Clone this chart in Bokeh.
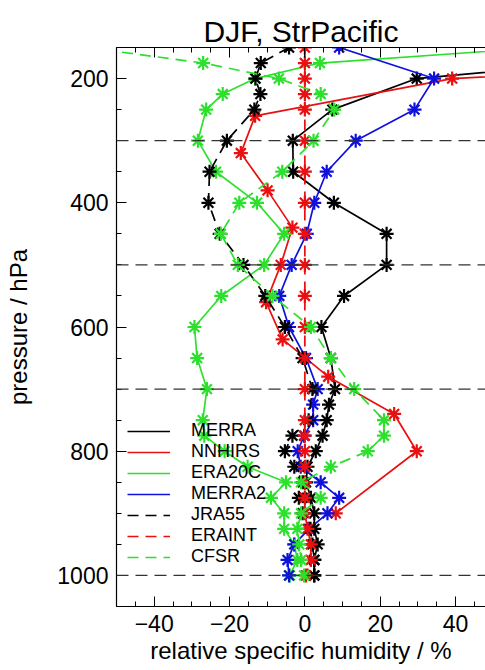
from bokeh.plotting import figure
from bokeh.models import Range1d, LinearAxis, Span, Legend, LegendItem, FixedTicker, CustomJSTickFormatter
from bokeh.embed import file_html
from bokeh.resources import INLINE

# ---------------- data ----------------
levels_std = [150, 175, 200, 225, 250, 300, 350, 400, 450, 500, 550, 600, 650, 700,
              750, 775, 800, 825, 850, 875, 900, 925, 950, 975, 1000]
levels_merra = [150, 200, 250, 300, 350, 400, 450, 500, 550, 600, 650, 700, 725,
                750, 775, 800, 825, 850, 875, 900, 925, 950, 975, 1000]
levels_nnhirs = [150, 200, 260, 320, 380, 440, 500, 560, 620, 680, 740, 800, 900]

merra = [120, 29.7, 7.3, -3.2, -3.1, 7.7, 21.7, 21.7, 10.4, 4.4, 6.9, 8.0, 6.4,
         5.8, 4.7, 2.9, 0.7, 0.3, 1.6, 2.5, 2.5, 3.4, 2.5, 2.5]
nnhirs = [200, 39.1, -13.2, -17.0, -9.9, -3.3, -6.4, -10.3, -5.9, 6.2, 23.7, 29.7, 8.2]
era20c = [63, 4.0, -13.2, -21.8, -26.2, -28.4, -23.6, -12.7, -5.5, -10.8, -22.2, -29.3,
          -28.6, -26.0, -27.1, -26.7, -21.3, -15.2, -5.0, -9.0, -5.5, -5.5, -2.8, -2.0, -4.0]
merra2 = [9.1, 34.3, 29.1, 13.5, 5.8, 2.5, 0.5, -3.5, -6.8, -4.2, 0.3, 3.4, 2.2,
          2.2, -0.2, -1.9, -1.1, 4.2, 9.1, 6.0, 1.1, -2.8, -4.6, -4.2]
jra55 = [-4.2, -11.7, -13.1, -11.8, -13.4, -20.7, -25.3, -25.6, -22.6, -16.3, -10.5, -5.3,
         -0.6, 2.0, 1.0, -3.3, -5.3, -2.8, -0.5, -1.6, -0.6, 1.5, 2.0, 2.5, 2.5]
eraint = [0, 0, 0, 0, 0, 0, 0, 0, 0, 0, 0, 0, 0, 0, 0, 0, 0, 0, 0, 0, 0, 0.7, 1.6, 1.6, 0.3]
cfsr = [-58, -27.0, -6.9, 4.2, 7.8, 2.3, -6.0, -17.4, -22.3, -17.8, -8.6, 1.6, 6.9, 13.1,
        21.0, 21.0, 16.7, 6.9, -1.0, 4.2, -1.0, -2.0, -1.5, -1.0, -0.2]

ref_levels = [300, 500, 700, 1000]

x_major = [-40, -20, 0, 20, 40]
x_minor = [-50, -45, -35, -30, -25, -15, -10, -5, 5, 10, 15, 25, 30, 35, 45]
y_major = [200, 400, 600, 800, 1000]
y_minor = [150, 250, 300, 350, 450, 500, 550, 650, 700, 750, 850, 900, 950, 1050]

series = [
    ("MERRA", levels_merra, merra, "#000000", "solid"),
    ("NNHIRS", levels_nnhirs, nnhirs, "#e81010", "solid"),
    ("ERA20C", levels_std, era20c, "#2ee02e", "solid"),
    ("MERRA2", levels_merra, merra2, "#1010dd", "solid"),
    ("JRA55", levels_std, jra55, "#000000", "11 7"),
    ("ERAINT", levels_std, eraint, "#e81010", "11 7"),
    ("CFSR", levels_std, cfsr, "#2ee02e", "11 7"),
]

FONT = "Liberation Sans"

# ---------------- figure ----------------
p = figure(width=485, height=670, output_backend="svg", toolbar_location=None,
           x_range=Range1d(-50, 47.95), y_range=Range1d(1050, 150),
           min_border_left=116, min_border_right=0, min_border_top=47,
           min_border_bottom=64, title="DJF, StrPacific")
p.outline_line_color = None
p.xgrid.visible = False
p.ygrid.visible = False
p.background_fill_color = "white"
p.border_fill_color = "white"

p.title.text_font = FONT
p.title.text_font_size = "30px"
p.title.text_font_style = "normal"
p.title.align = "center"
p.title.text_color = "black"
p.title.standoff = 0

bottom_axis = p.below[0]
left_axis = p.left[0]

top_axis = LinearAxis()
p.add_layout(top_axis, "above")

for ax in [bottom_axis, top_axis]:
    ax.ticker = FixedTicker(ticks=x_major, minor_ticks=x_minor)
left_axis.ticker = FixedTicker(ticks=y_major, minor_ticks=y_minor)

for ax in [bottom_axis, top_axis, left_axis]:
    ax.major_tick_in = 10
    ax.major_tick_out = 0
    ax.minor_tick_in = 5
    ax.minor_tick_out = 0
    ax.axis_line_color = "black"
    ax.axis_line_width = 1.2
    ax.major_tick_line_color = "black"
    ax.minor_tick_line_color = "black"
    ax.major_label_text_font = FONT
    ax.major_label_text_font_size = "23px"
    ax.major_label_text_color = "black"
    ax.axis_label_text_font = FONT
    ax.axis_label_text_font_size = "24px"
    ax.axis_label_text_font_style = "normal"
    ax.axis_label_text_color = "black"

top_axis.formatter = CustomJSTickFormatter(code="return ''")
top_axis.major_label_text_font_size = "1px"
top_axis.major_label_standoff = 0

bottom_axis.axis_label = "relative specific humidity / %"
bottom_axis.major_label_standoff = 8
bottom_axis.axis_label_standoff = 2
left_axis.axis_label = "pressure / hPa"
left_axis.major_label_standoff = 8
left_axis.axis_label_standoff = 22

for lv in ref_levels:
    p.add_layout(Span(location=lv, dimension="width", line_color="#333333",
                      line_dash="12 7", line_width=1.3))

items = []
for name, lev, vals, col, dash in series:
    r = p.line(vals, lev, line_color=col, line_width=1.7, line_dash=dash)
    p.scatter(vals, lev, marker="asterisk", size=14, line_color=col, line_width=2.2)
    items.append(LegendItem(label=name, renderers=[r]))

legend = Legend(items=items, location=(11, 39), glyph_width=43, glyph_height=18,
                label_height=18, label_standoff=21, spacing=0, padding=0, margin=0,
                background_fill_alpha=0, border_line_alpha=0,
                label_text_font=FONT, label_text_font_size="18px",
                label_text_color="black")
p.add_layout(legend)

open("out.html", "w").write(file_html(p, INLINE))
